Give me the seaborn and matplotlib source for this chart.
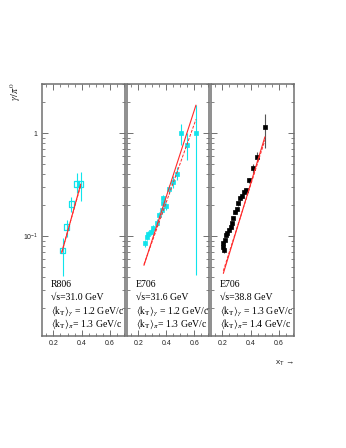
import numpy as np
import pandas as pd
import matplotlib
matplotlib.use("Agg")
import matplotlib.pyplot as plt
import matplotlib.ticker as mticker
import seaborn as sns

# ---------------- data ----------------
r806_x = [0.266, 0.293, 0.326, 0.364, 0.393]
r806_y = [0.072, 0.123, 0.205, 0.32, 0.32]
r806_lo = [0.041, 0.098, 0.172, 0.26, 0.22]
r806_hi = [0.096, 0.143, 0.24, 0.41, 0.42]

e706a_x = [0.246, 0.26, 0.272, 0.291, 0.303, 0.332, 0.35, 0.367, 0.375, 0.379,
           0.398, 0.419, 0.446, 0.474, 0.503, 0.55, 0.614]
e706a_y = [0.085, 0.098, 0.105, 0.110, 0.119, 0.135, 0.16, 0.179, 0.232, 0.208,
           0.195, 0.284, 0.332, 0.40, 1.0, 0.765, 1.0]
e706a_lo = [0.079, 0.091, 0.097, 0.102, 0.110, 0.125, 0.148, 0.165, 0.212, 0.192,
            0.180, 0.255, 0.29, 0.35, 0.76, 0.547, 0.0418]
e706a_hi = [0.091, 0.105, 0.113, 0.118, 0.128, 0.145, 0.172, 0.193, 0.252, 0.224,
            0.210, 0.315, 0.38, 0.47, 1.24, 1.0, 1.87]

e706b_x = [0.202, 0.207, 0.212, 0.219, 0.226, 0.235, 0.249, 0.259, 0.268, 0.277,
           0.289, 0.301, 0.312, 0.324, 0.336, 0.353, 0.367, 0.39, 0.414, 0.446, 0.5]
e706b_y = [0.085, 0.078, 0.073, 0.091, 0.102, 0.106, 0.115, 0.123, 0.135, 0.149,
           0.172, 0.182, 0.208, 0.232, 0.245, 0.27, 0.28, 0.35, 0.454, 0.581, 1.14]
e706b_lo = [0.080, 0.073, 0.068, 0.086, 0.097, 0.101, 0.110, 0.117, 0.129, 0.142,
            0.164, 0.173, 0.198, 0.220, 0.232, 0.255, 0.264, 0.33, 0.41, 0.52, 0.71]
e706b_hi = [0.090, 0.083, 0.078, 0.096, 0.107, 0.111, 0.120, 0.129, 0.141, 0.156,
            0.180, 0.191, 0.218, 0.244, 0.258, 0.285, 0.296, 0.37, 0.50, 0.65, 1.55]

th_r806_x = [0.259, 0.393]
th_r806_solid = [0.0685, 0.32]
th_r806_dash = [0.070, 0.31]

th_a_x = [0.241, 0.612]
th_a_solid = [0.052, 1.87]
th_a_dash = [0.053, 1.36]

th_b_x = [0.207, 0.5]
th_b_solid = [0.0434, 0.92]
th_b_dash = [0.046, 0.855]

labels = [
    ["R806", "√s=31.0 GeV", "1.2", "1.3"],
    ["E706", "√s=31.6 GeV", "1.2", "1.3"],
    ["E706", "√s=38.8 GeV", "1.3", "1.4"],
]
xticks = [0.2, 0.4, 0.6]
xtick_labels = ["0.2", "0.4", "0.6"]

# ---------------- style ----------------
sns.set_style("ticks")
plt.rcParams["font.family"] = ["Liberation Sans", "DejaVu Sans"]
plt.rcParams["mathtext.fontset"] = "stix"

CYAN = "#10e4ec"
RED = "#ff2a2a"
SPINE = "#707070"

fig = plt.figure(figsize=(3.46, 4.48), dpi=100)
W, H = 346.0, 448.0
ybot, ytop = 336, 84
lefts = [42, 127, 211]
widths = [83, 82, 83]
axes = []
for l, w in zip(lefts, widths):
    ax = fig.add_axes([l / W, 1 - ybot / H, w / W, (ybot - ytop) / H])
    axes.append(ax)

XLIM = (0.12, 0.705)
YLIM = (0.0107, 3.0)


def draw_err(ax, x, y, lo, hi, color):
    y = np.asarray(y)
    yerr = np.vstack([y - np.asarray(lo), np.asarray(hi) - y])
    ax.errorbar(x, y, yerr=yerr, fmt="none", ecolor=color, elinewidth=0.8,
                capsize=0, zorder=2)


def draw_theory(ax, x, ys, yd):
    sns.lineplot(x=x, y=ys, ax=ax, color=RED, lw=0.8, zorder=5)
    sns.lineplot(x=x, y=yd, ax=ax, color=RED, lw=0.7, ls=(0, (3, 1.5)), zorder=5)


# panel 1
ax = axes[0]
draw_err(ax, r806_x, r806_y, r806_lo, r806_hi, CYAN)
sns.scatterplot(x=r806_x, y=r806_y, ax=ax, marker="s", s=15, facecolor="none",
                edgecolor=CYAN, linewidth=0.9, zorder=4)
draw_theory(ax, th_r806_x, th_r806_solid, th_r806_dash)

# panel 2
ax = axes[1]
draw_err(ax, e706a_x, e706a_y, e706a_lo, e706a_hi, CYAN)
sns.scatterplot(x=e706a_x, y=e706a_y, ax=ax, marker="s", s=12, color=CYAN,
                edgecolor=CYAN, linewidth=0.5, zorder=4)
draw_theory(ax, th_a_x, th_a_solid, th_a_dash)

# panel 3
ax = axes[2]
draw_err(ax, e706b_x, e706b_y, e706b_lo, e706b_hi, "#555555")
sns.scatterplot(x=e706b_x, y=e706b_y, ax=ax, marker="s", s=12, color="black",
                edgecolor="black", linewidth=0.5, zorder=4)
draw_theory(ax, th_b_x, th_b_solid, th_b_dash)

for i, ax in enumerate(axes):
    ax.set_yscale("log")
    ax.set_xlim(*XLIM)
    ax.set_ylim(*YLIM)
    ax.set_xlabel("")
    ax.set_ylabel("")
    for sp in ax.spines.values():
        sp.set_visible(True)
        sp.set_color(SPINE)
        sp.set_linewidth(1.1)
    ax.xaxis.set_major_locator(mticker.FixedLocator(xticks))
    ax.xaxis.set_major_formatter(mticker.FixedFormatter(xtick_labels))
    ax.xaxis.set_minor_locator(mticker.MultipleLocator(0.05))
    ax.yaxis.set_major_locator(mticker.LogLocator(base=10, numticks=10))
    ax.yaxis.set_minor_locator(mticker.LogLocator(base=10, subs=np.arange(2, 10), numticks=20))
    ax.tick_params(which="both", direction="in", top=True, right=True,
                   colors=SPINE, labelcolor="#222222", labelsize=5, pad=3)
    ax.tick_params(which="major", length=4, width=0.7)
    ax.tick_params(which="minor", length=2, width=0.6)
    ax.yaxis.set_minor_formatter(mticker.NullFormatter())
    if i == 0:
        ax.yaxis.set_major_formatter(mticker.FuncFormatter(
            lambda v, p: "1" if abs(v - 1) < 1e-9 else ("$\\mathregular{10^{-1}}$" if abs(v - 0.1) < 1e-9 else "")))
    else:
        ax.yaxis.set_major_formatter(mticker.NullFormatter())

    lab = labels[i]
    lines = [
        lab[0],
        lab[1],
        r"$\langle\mathrm{k_T}\rangle_\gamma$" + " = " + lab[2] + " GeV/c",
        r"$\langle\mathrm{k_T}\rangle_\pi$" + "= " + lab[3] + " GeV/c",
    ]
    ys = [0.206, 0.154, 0.099, 0.048]
    for t, yy in zip(lines, ys):
        ax.text(0.105, yy, t, transform=ax.transAxes, ha="left", va="center",
                fontsize=7, family=["Liberation Serif", "DejaVu Serif"], color="black")

fig.text(16 / W, 1 - 83 / H, r"$\gamma/\pi^0$", rotation=90, ha="center", va="top",
         fontsize=7.5, color="#222222")
fig.text(294 / W, 1 - 363 / H, r"x$_\mathregular{T}$ →", ha="right", va="center",
         fontsize=6, color="#222222")

fig.savefig("out.png", dpi=100)
